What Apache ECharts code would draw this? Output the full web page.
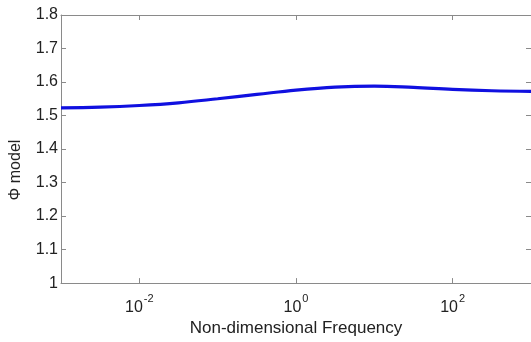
<!DOCTYPE html>
<html><head><meta charset="utf-8">
<script src="https://cdn.jsdelivr.net/npm/echarts@6/dist/echarts.min.js"></script>
<style>html,body{margin:0;padding:0;background:#fff}#c{width:531px;height:342px}</style>
</head><body><div id="c"></div>
<script>
// log10 of non-dimensional frequency
const logFreq = [-3, -2.5, -2, -1.5, -1, -0.5, 0, 0.5, 1, 1.5, 2, 2.5, 3];
const phiModel = [1.523, 1.525, 1.530, 1.538, 1.550, 1.563, 1.576, 1.585, 1.588, 1.584, 1.578, 1.574, 1.572];
const xTickExps = [-2, 0, 2];

const chart = echarts.init(document.getElementById('c'));
const axisCol = '#8a8a8a';
const font = 'Arial, "Liberation Sans", sans-serif';
chart.setOption({
  animation: false,
  grid: {left: 55, top: 15, width: 478, height: 276, containLabel: false},
  xAxis: [{
    type: 'value', min: -3, max: 3,
    axisLine: {show: true, onZero: false, lineStyle: {color: axisCol, width: 1}},
    axisTick: {show: true, inside: true, length: 5, customValues: xTickExps, lineStyle: {color: axisCol}},
    axisLabel: {show: true, customValues: xTickExps, margin: 10, fontFamily: font,
      formatter: v => '{b|10}{s|' + v + '}',
      rich: {b: {fontSize: 16, color: '#222', fontFamily: font, verticalAlign: 'bottom', lineHeight: 22},
             s: {fontSize: 11, color: '#222', fontFamily: font, verticalAlign: 'top', lineHeight: 22, padding: [0,0,0,1]}}},
    splitLine: {show: false},
    name: 'Non-dimensional Frequency', nameLocation: 'middle', nameGap: 36,
    nameTextStyle: {fontSize: 17, color: '#222', fontFamily: font}
  }, {
    type: 'value', min: -3, max: 3, position: 'top',
    axisLine: {show: true, onZero: false, lineStyle: {color: axisCol, width: 1}},
    axisTick: {show: true, inside: true, length: 5, customValues: xTickExps, lineStyle: {color: axisCol}},
    axisLabel: {show: false}, splitLine: {show: false}
  }],
  yAxis: [{
    type: 'value', min: 1, max: 1.8, interval: 0.1,
    axisLine: {show: true, onZero: false, lineStyle: {color: axisCol, width: 1}},
    axisTick: {show: true, inside: true, length: 5, lineStyle: {color: axisCol}},
    axisLabel: {fontSize: 16, color: '#222', fontFamily: font, margin: 3,
      formatter: v => String(Math.round(v * 10) / 10)},
    splitLine: {show: false},
    name: 'Φ model', nameLocation: 'middle', nameGap: 37, nameRotate: 90,
    nameTextStyle: {fontSize: 16, color: '#222', fontFamily: font, padding: [0, 0, 0, -42]}
  }, {
    type: 'value', min: 1, max: 1.8, interval: 0.1, position: 'right',
    axisLine: {show: true, onZero: false, lineStyle: {color: axisCol, width: 1}},
    axisTick: {show: true, inside: true, length: 5, lineStyle: {color: axisCol}},
    axisLabel: {show: false}, splitLine: {show: false}
  }],
  series: [{
    type: 'line', xAxisIndex: 0, yAxisIndex: 0,
    data: logFreq.map((x, i) => [x, phiModel[i]]),
    smooth: 0.4, showSymbol: false,
    lineStyle: {color: '#1010e0', width: 3.2}
  }]
});
</script></body></html>
